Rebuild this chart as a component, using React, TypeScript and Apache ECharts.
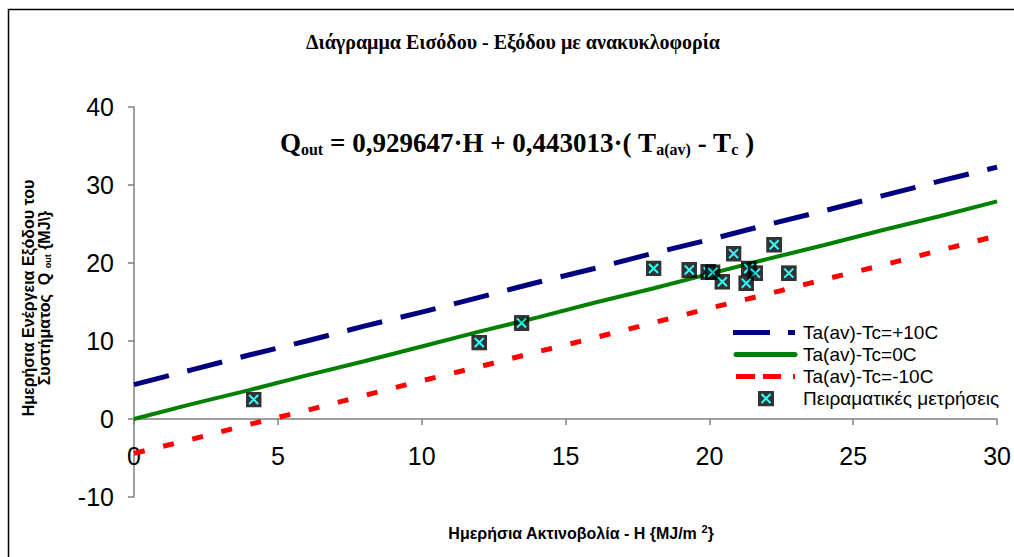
import React, { useEffect, useRef } from "react";
import * as echarts from "echarts";

// Model lines
const H_LINE = [0, 2, 4, 6, 8, 10, 12, 14, 16, 18, 20, 22, 24, 26, 28, 30];
const Q_PLUS10 = [4.4, 6.3, 8.2, 10.0, 11.9, 13.7, 15.6, 17.5, 19.3, 21.2, 23.0, 24.9, 26.7, 28.6, 30.5, 32.3];
const Q_ZERO = [0, 1.9, 3.7, 5.6, 7.4, 9.3, 11.2, 13.0, 14.9, 16.7, 18.6, 20.5, 22.3, 24.2, 26.0, 27.9];
const Q_MINUS10 = [-4.4, -2.6, -0.7, 1.1, 3.0, 4.9, 6.7, 8.6, 10.4, 12.3, 14.2, 16.0, 17.9, 19.7, 21.6, 23.5];

// Experimental measurements
const MEAS_H = [4.16, 12.0, 13.47, 18.06, 19.3, 19.96, 20.11, 20.45, 20.84, 21.37, 21.6, 21.28, 22.25, 22.76];
const MEAS_Q = [2.5, 9.8, 12.3, 19.3, 19.1, 18.85, 18.8, 17.6, 21.2, 19.3, 18.7, 17.4, 22.35, 18.7];

const SERIES_NAMES = [
  "Ta(av)-Tc=+10C",
  "Ta(av)-Tc=0C",
  "Ta(av)-Tc=-10C",
  "Πειραματικές μετρήσεις",
];

const X_TICKS = { min: 0, max: 30, interval: 5 };
const Y_TICKS = { min: -10, max: 40, interval: 10 };

const TITLE = "Διάγραμμα Εισόδου - Εξόδου με ανακυκλοφορία";

const svgUri = (body: string, w: number, h: number) =>
  "image://data:image/svg+xml;charset=utf-8," +
  encodeURIComponent(
    `<svg xmlns='http://www.w3.org/2000/svg' width='${w}' height='${h}' viewBox='0 0 ${w} ${h}'>${body}</svg>`
  );

const MARKER = svgUri(
  "<rect width='16' height='16' fill='#000000'/>" +
    "<path d='M3.5 3.5L12.5 12.5M12.5 3.5L3.5 12.5' stroke='#00FFFF' stroke-width='2'/>",
  16,
  16
);

const LEGEND_MARKER = svgUri(
  "<rect x='25' y='0' width='16' height='16' fill='#000000'/>" +
    "<path d='M28.5 3.5L37.5 12.5M37.5 3.5L28.5 12.5' stroke='#00FFFF' stroke-width='2'/>",
  65,
  16
);
const LEGEND_BLUE = svgUri(
  "<path d='M0 8H37M55 8H62' stroke='#000080' stroke-width='5'/>",
  65,
  16
);
const LEGEND_GREEN = svgUri(
  "<path d='M3 8H62' stroke='#008000' stroke-width='5' stroke-linecap='round'/>",
  65,
  16
);
const LEGEND_RED = svgUri(
  "<path d='M3 8H22M30 8H48M60 8H62' stroke='#FF0000' stroke-width='5'/>",
  65,
  16
);

const SANS = "'Liberation Sans', Arial, sans-serif";
const SERIF = "'Liberation Serif', 'Times New Roman', serif";

const GRID = { left: 134, right: 14, top: 107, bottom: 60 };
const CHART_H = 557;

export default function App() {
  const ref = useRef<HTMLDivElement>(null);

  useEffect(() => {
    if (!ref.current) return;
    const chart = echarts.init(ref.current, undefined, { renderer: "svg" });

    const zip = (xs: number[], ys: number[]) => xs.map((x, i) => [x, ys[i]]);

    // distance (px) from the grid bottom up to the value 0 of the y axis
    const plotH = CHART_H - GRID.top - GRID.bottom;
    const zeroOffset = ((0 - Y_TICKS.min) / (Y_TICKS.max - Y_TICKS.min)) * plotH;

    chart.setOption({
      animation: false,
      backgroundColor: "#ffffff",
      grid: { ...GRID, containLabel: false },
      xAxis: {
        type: "value",
        min: X_TICKS.min,
        max: X_TICKS.max,
        interval: X_TICKS.interval,
        offset: -zeroOffset,
        axisLine: { onZero: false, lineStyle: { color: "#808080", width: 1.5 } },
        axisTick: { show: true, inside: false, length: 6, lineStyle: { color: "#808080", width: 1.5 } },
        axisLabel: { color: "#000", fontFamily: SANS, fontSize: 25, margin: 24 },
        splitLine: { show: false },
      },
      yAxis: {
        type: "value",
        min: Y_TICKS.min,
        max: Y_TICKS.max,
        interval: Y_TICKS.interval,
        axisLine: { show: true, onZero: false, lineStyle: { color: "#808080", width: 1.5 } },
        axisTick: { show: true, inside: false, length: 6, lineStyle: { color: "#808080", width: 1.5 } },
        axisLabel: { color: "#000", fontFamily: SANS, fontSize: 25, margin: 20 },
        splitLine: { show: false },
      },
      legend: {
        orient: "vertical",
        left: 728,
        top: 318,
        itemWidth: 65,
        itemHeight: 16,
        itemGap: 3,
        textStyle: { color: "#000", fontFamily: SANS, fontSize: 19 },
        data: [
          { name: SERIES_NAMES[0], icon: LEGEND_BLUE },
          { name: SERIES_NAMES[1], icon: LEGEND_GREEN },
          { name: SERIES_NAMES[2], icon: LEGEND_RED },
          { name: SERIES_NAMES[3], icon: LEGEND_MARKER },
        ],
      },
      series: [
        {
          name: SERIES_NAMES[0],
          type: "line",
          data: zip(H_LINE, Q_PLUS10),
          showSymbol: false,
          symbol: "none",
          lineStyle: { color: "#000080", width: 5, type: [36, 19] },
          itemStyle: { color: "#000080" },
          z: 2,
        },
        {
          name: SERIES_NAMES[1],
          type: "line",
          data: zip(H_LINE, Q_ZERO),
          showSymbol: false,
          symbol: "none",
          lineStyle: { color: "#008000", width: 4, type: "solid" },
          itemStyle: { color: "#008000" },
          z: 2,
        },
        {
          name: SERIES_NAMES[2],
          type: "line",
          data: zip(H_LINE, Q_MINUS10),
          showSymbol: false,
          symbol: "none",
          lineStyle: { color: "#FF0000", width: 5, type: [11, 19] },
          itemStyle: { color: "#FF0000" },
          z: 2,
        },
        {
          name: SERIES_NAMES[3],
          type: "scatter",
          data: zip(MEAS_H, MEAS_Q),
          symbol: MARKER,
          symbolSize: 16,
          symbolKeepAspect: true,
          itemStyle: { color: "#000000" },
          z: 3,
        },
      ],
      graphic: [
        {
          type: "rect",
          silent: true,
          z: -10,
          shape: { x: 8.5, y: 9.5, width: 1100, height: 600 },
          style: { fill: "none", stroke: "#000", lineWidth: 1.5 },
        },
        {
          type: "text",
          x: 513,
          y: 42,
          style: {
            text: TITLE,
            align: "center",
            verticalAlign: "middle",
            fill: "#000",
            font: `bold 20px ${SERIF}`,
          },
        },
        {
          type: "text",
          x: 517,
          y: 143,
          style: {
            text: "{b|Q}{s|out}{b| = 0,929647·H + 0,443013·( T}{s|a(av)}{b| - T}{s|c}{b| )}",
            align: "center",
            verticalAlign: "middle",
            fill: "#000",
            rich: {
              b: { fontFamily: SERIF, fontWeight: "bold", fontSize: 27, lineHeight: 32, verticalAlign: "middle" },
              s: { fontFamily: SERIF, fontWeight: "bold", fontSize: 16, lineHeight: 16, verticalAlign: "bottom", padding: [0, 0, 2, 0] },
            },
          },
        },
        {
          type: "text",
          x: 36,
          y: 298,
          rotation: Math.PI / 2,
          style: {
            text: "{n|Ημερήσια Ενέργεια Εξόδου του}\n{n|Συστήματος  Q }{s|out}{n| {MJ}{n|\\}}",
            align: "center",
            verticalAlign: "middle",
            fill: "#000",
            font: `bold 16px ${SANS}`,
            rich: {
              n: { fontFamily: SANS, fontWeight: "bold", fontSize: 16, lineHeight: 16, verticalAlign: "middle" },
              s: { fontFamily: SANS, fontWeight: "bold", fontSize: 9, lineHeight: 16, verticalAlign: "bottom" },
            },
          },
        },
        {
          type: "text",
          x: 581,
          y: 533,
          style: {
            text: "{n|Ημερήσια Ακτινοβολία - H {MJ/m }{sup|2}}",
            align: "center",
            verticalAlign: "middle",
            fill: "#000",
            font: `bold 16px ${SANS}`,
            rich: {
              n: { fontFamily: SANS, fontWeight: "bold", fontSize: 16, lineHeight: 20, verticalAlign: "middle" },
              sup: { fontFamily: SANS, fontWeight: "bold", fontSize: 11, lineHeight: 20, verticalAlign: "top" },
            },
          },
        },
      ],
    });

    return () => chart.dispose();
  }, []);

  return (
    <div
      ref={ref}
      style={{ position: "fixed", left: 0, top: 0, width: 1014, height: 557, background: "#fff" }}
    />
  );
}
